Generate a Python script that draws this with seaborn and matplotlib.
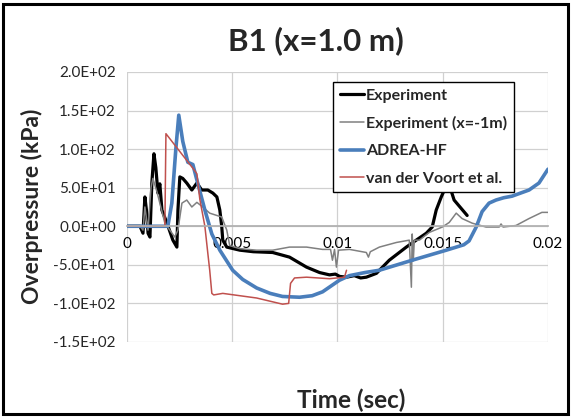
import matplotlib
matplotlib.use("Agg")
import matplotlib.pyplot as plt
import matplotlib.ticker as mticker
import numpy as np
import pandas as pd
import seaborn as sns

# time (s) / overpressure (kPa)
exp_t = [0, 0.00062, 0.00076, 0.00085, 0.00095, 0.00100, 0.00109, 0.00118, 0.00128,
         0.00137, 0.00147, 0.00156, 0.00166, 0.00190, 0.00218, 0.00237, 0.00242,
         0.00251, 0.00265, 0.00284, 0.00308, 0.00332, 0.00355, 0.00384, 0.00408,
         0.00427, 0.00441, 0.00450, 0.00455, 0.00474, 0.00536, 0.00600, 0.00692,
         0.00772, 0.00853, 0.00915, 0.00962, 0.00990, 0.01010, 0.01043, 0.01080,
         0.01110, 0.01137, 0.01185, 0.01246, 0.01327, 0.01374, 0.01422, 0.01450,
         0.01469, 0.01493, 0.01526, 0.01554, 0.01616]
exp_p = [0, 0, -9, 38, 15, -9, -14, 56, 94,
         76, 43, 55, 21, 4, -18, -27, 21,
         64, 62, 56, 47, 56, 47, 47, 43,
         38, 21, 0, -18, -27, -31, -33, -34,
         -40, -53, -60, -63, -62, -65, -66, -64,
         -67, -66, -61, -44, -27, -18, -9, -1,
         21, 38, 58, 34, 14]

exp2_t = [0, 0.00062, 0.00076, 0.00085, 0.00100, 0.00114, 0.00123, 0.00142, 0.00156,
          0.00180, 0.00227, 0.00242, 0.00261, 0.00284, 0.00308, 0.00332, 0.00360,
          0.00393, 0.00427, 0.00450, 0.00474, 0.00488, 0.00536, 0.00616, 0.00692,
          0.00772, 0.00853, 0.00929, 0.00967, 0.00976, 0.00986, 0.00995, 0.01005,
          0.01057, 0.01137, 0.01147, 0.01156, 0.01199, 0.01280, 0.01341, 0.01351,
          0.01355, 0.01360, 0.01365, 0.01389, 0.01436, 0.01498, 0.01531, 0.01564,
          0.01592, 0.01640, 0.01706, 0.01768, 0.01777, 0.01787, 0.01848, 0.01910,
          0.01971, 0.02000]
exp2_p = [0, 0, -5, 25, -5, 50, 62, 45, 30,
          4, -14, -5, 30, 34, 25, 31, 25,
          17, 14, 12, -5, -25, -29, -31, -31,
          -27, -27, -30, -30, -44, -30, -53, -31,
          -30, -34, -40, -33, -27, -21, -18, -79,
          -10, -45, -18, -18, -8, -1, 5, 17,
          10, 4, -1, -1, 3, -1, 1, 10,
          18, 18]

adrea_t = [0, 0.00194, 0.00213, 0.00232, 0.00246, 0.00265, 0.00289, 0.00313, 0.00332,
           0.00370, 0.00403, 0.00441, 0.00502, 0.00550, 0.00616, 0.00680, 0.00739,
           0.00820, 0.00880, 0.00929, 0.01009, 0.01057, 0.01130, 0.01199, 0.01355,
           0.01517, 0.01600, 0.01625, 0.01659, 0.01687, 0.01720, 0.01753, 0.01790,
           0.01829, 0.01910, 0.01957, 0.02000]
adrea_p = [0, 0, 30, 100, 144, 110, 83, 80, 60,
           21, -10, -31, -57, -69, -80, -87, -91,
           -92, -90, -85, -70, -64, -60, -57, -44,
           -31, -24, -19, -1, 19, 30, 34, 37,
           39, 47, 56, 74]

voort_t = [0, 0.00180, 0.00185, 0.00322, 0.00332, 0.00346, 0.00370, 0.00384, 0.00393,
           0.00403, 0.00412, 0.00455, 0.00616, 0.00739, 0.00768, 0.00777, 0.00796,
           0.00853, 0.00962, 0.01033, 0.01043]
voort_p = [0, 0, 120, 72, 68, 35, 0, -35, -57,
           -87, -89, -87, -93, -101, -100, -74, -67,
           -66, -68, -66, -57]

series = [
    ("Experiment", exp_t, exp_p, "#000000", 2.3),
    ("Experiment (x=-1m)", exp2_t, exp2_p, "#808080", 1.1),
    ("ADREA-HF", adrea_t, adrea_p, "#4a7ebb", 2.6),
    ("van der Voort et al.", voort_t, voort_p, "#c0504d", 1.1),
]

x_ticks = [0, 0.005, 0.01, 0.015, 0.02]
y_ticks = [-150, -100, -50, 0, 50, 100, 150, 200]

sns.set_theme(style="white")
plt.rcParams["font.family"] = ["Lato", "DejaVu Sans"]

fig = plt.figure(figsize=(5.71, 4.17), dpi=100)
ax = fig.add_axes([0.2224, 0.1799, 0.7373, 0.6475])

for name, t, p, col, lw in series:
    df = pd.DataFrame({"t": t, "p": p})
    sns.lineplot(data=df, x="t", y="p", color=col, linewidth=lw, label=name,
                 sort=False, estimator=None, ax=ax)

ax.set_xlim(0, 0.02)
ax.set_ylim(-150, 200)
ax.set_xticks(x_ticks)
ax.set_yticks(y_ticks)
ax.xaxis.set_major_formatter(mticker.FuncFormatter(lambda v, pos: f"{v:g}"))
ax.yaxis.set_major_formatter(mticker.FuncFormatter(lambda v, pos: f"{v:.1E}"))
ax.grid(True, color="#d0d0d0", linewidth=0.9)
for s in ["top", "right", "left"]:
    ax.spines[s].set_visible(False)
ax.spines["bottom"].set_position(("data", 0))
ax.spines["bottom"].set_color("#b0b0b0")
ax.tick_params(axis="x", length=0, pad=8, labelsize=11, colors="#000000")
ax.tick_params(axis="y", length=4, color="#d0d0d0", pad=4, labelsize=11)
ax.set_xlabel("")
ax.set_ylabel("")

fig.text(0.553, 0.902, "B1 (x=1.0 m)", ha="center", va="center",
         fontsize=22.5, fontweight="bold")
fig.text(0.056, 0.505, "Overpressure (kPa)", ha="center", va="center",
         rotation=90, fontsize=16.5, fontweight="bold")
fig.text(0.615, 0.041, "Time (sec)", ha="center", va="center",
         fontsize=17.5, fontweight="bold")

leg = ax.legend(loc="upper left", bbox_to_anchor=(0.489, 0.963), fontsize=11.5,
                frameon=True, fancybox=False, framealpha=1, edgecolor="black",
                handlelength=1.55, handletextpad=0.12, labelspacing=0.82,
                borderpad=0.42, borderaxespad=0)
leg.get_frame().set_linewidth(1.0)
for txt in leg.get_texts():
    txt.set_fontweight("bold")

fig.add_artist(plt.Rectangle((0.005, 0.008), 0.989, 0.982, transform=fig.transFigure,
                             fill=False, edgecolor="black", linewidth=2.2))

fig.savefig("out.png", dpi=100)
